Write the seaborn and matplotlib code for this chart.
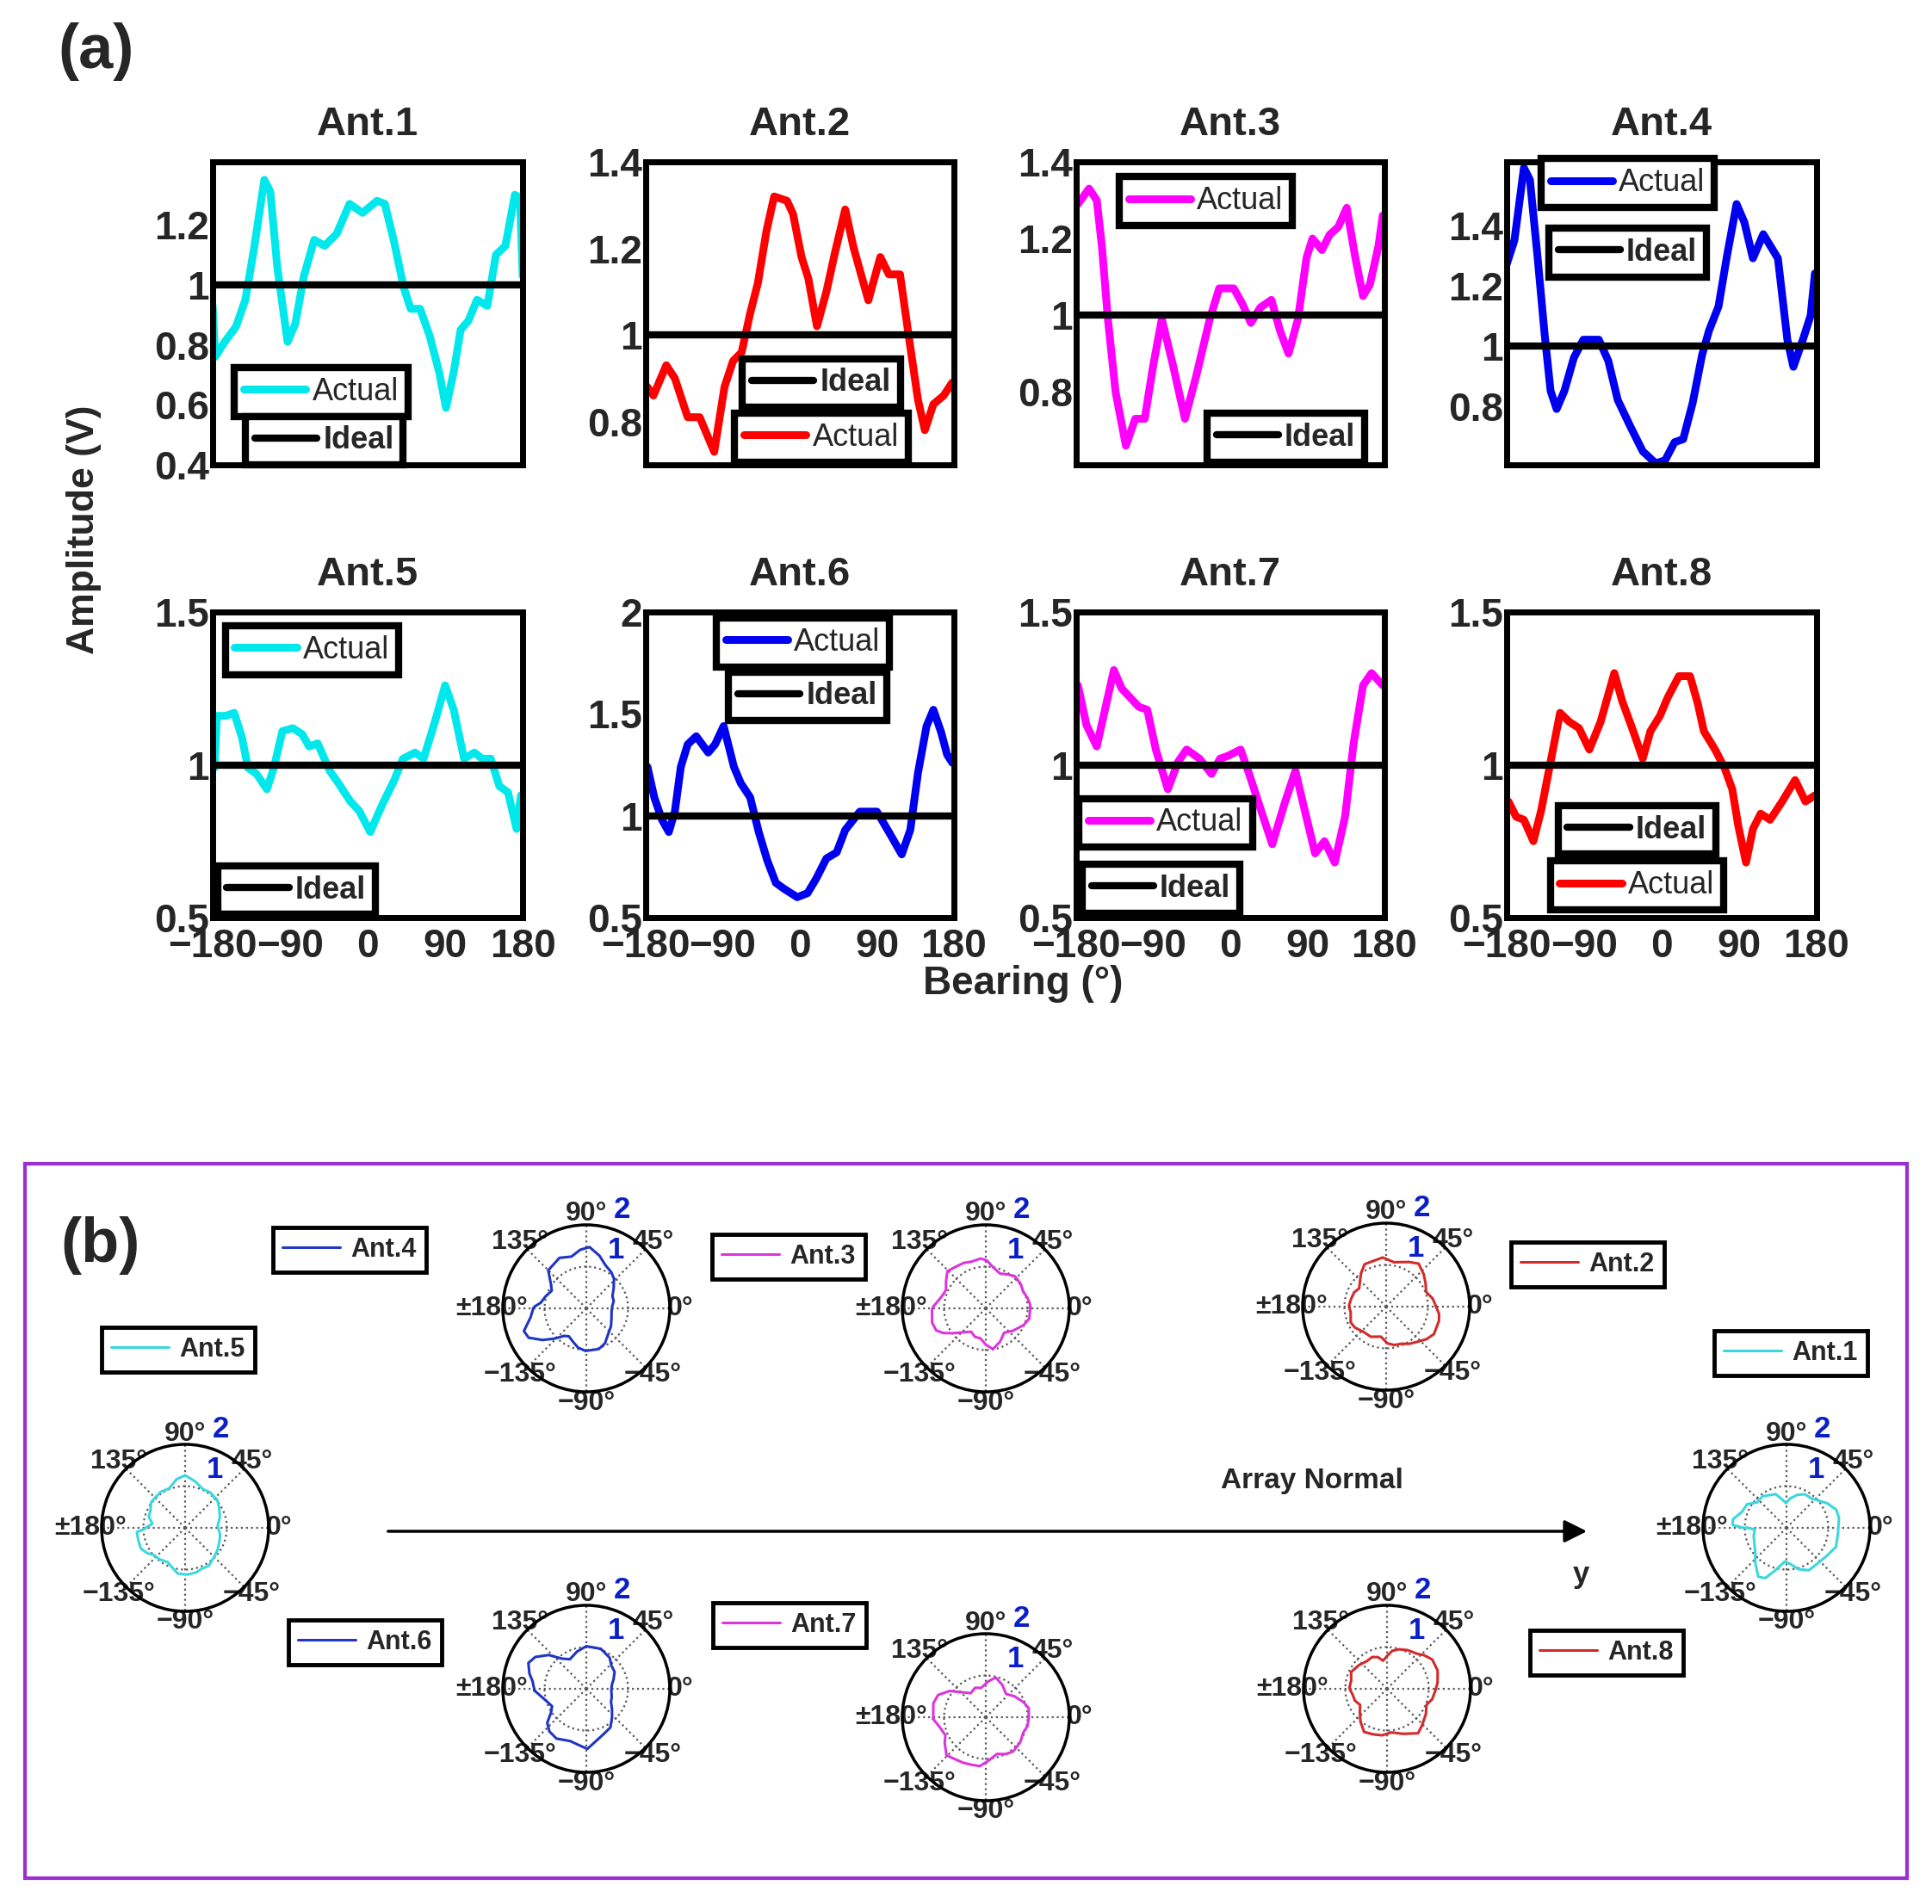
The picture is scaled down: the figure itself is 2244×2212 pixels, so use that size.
import numpy as np
import seaborn as sns
import matplotlib
matplotlib.use("Agg")
import matplotlib.pyplot as plt
from matplotlib.patches import Rectangle, FancyArrowPatch

# ==================================
# DATA
# ==================================

ant1_deg = [-180, -177, -166, -153, -142, -132, -120, -113, -105, -93, -84, -74, -62, -50, -36, -21, -6,
            11, 20, 31, 42, 50, 61, 72, 83, 91, 100, 108, 117, 127, 139, 149, 160, 171, 177, 180]
ant1_amp = [0.93, 0.76, 0.81, 0.86, 0.95, 1.12, 1.35, 1.31, 1.06, 0.81, 0.87, 1.03, 1.15, 1.13, 1.17, 1.27, 1.24,
            1.28, 1.27, 1.14, 0.99, 0.92, 0.92, 0.83, 0.71, 0.59, 0.71, 0.85, 0.88, 0.95, 0.93, 1.10, 1.13, 1.30, 1.29, 1.03]

ant2_deg = [-178, -171, -156, -146, -131, -117, -100, -88, -78, -68, -58, -49, -39, -30, -15, -8, 2,
            10, 20, 31, 41, 53, 63, 80, 94, 104, 117, 127, 138, 146, 156, 168, 178]
ant2_amp = [0.88, 0.86, 0.93, 0.90, 0.81, 0.81, 0.73, 0.88, 0.94, 0.96, 1.05, 1.12, 1.24, 1.32, 1.31, 1.28, 1.18,
            1.13, 1.02, 1.10, 1.19, 1.29, 1.20, 1.08, 1.18, 1.14, 1.14, 1.00, 0.85, 0.78, 0.84, 0.86, 0.89]

ant3_deg = [-178, -165, -156, -150, -143, -134, -122, -111, -100, -90, -80, -67, -53, -40, -24, -13, 4,
            14, 24, 35, 48, 58, 68, 79, 89, 96, 107, 116, 126, 136, 146, 155, 163, 173, 178]
ant3_amp = [1.29, 1.33, 1.30, 1.18, 0.99, 0.80, 0.66, 0.73, 0.73, 0.87, 0.99, 0.87, 0.73, 0.84, 0.99, 1.07, 1.07,
            1.03, 0.98, 1.02, 1.04, 0.96, 0.90, 0.99, 1.15, 1.20, 1.17, 1.21, 1.23, 1.28, 1.15, 1.05, 1.08, 1.18, 1.26]

ant4_deg = [-180, -171, -160, -153, -144, -136, -129, -122, -113, -102, -91, -73, -62, -51, -36, -22, -7,
            4, 15, 25, 36, 47, 55, 66, 76, 87, 96, 106, 118, 135, 146, 153, 164, 173, 178]
ant4_amp = [1.27, 1.35, 1.59, 1.55, 1.29, 1.04, 0.85, 0.79, 0.85, 0.96, 1.02, 1.02, 0.95, 0.82, 0.73, 0.65, 0.61,
            0.62, 0.68, 0.69, 0.81, 0.97, 1.05, 1.13, 1.30, 1.47, 1.41, 1.29, 1.37, 1.29, 1.02, 0.93, 1.02, 1.10, 1.24]

ant5_deg = [-178, -175, -165, -155, -146, -139, -129, -117, -109, -99, -87, -76, -68, -58, -44, -34, -20,
            -10, 3, 17, 31, 41, 55, 65, 78, 90, 100, 112, 124, 133, 143, 153, 163, 173, 178]
ant5_amp = [0.99, 1.16, 1.16, 1.17, 1.09, 0.99, 0.97, 0.92, 0.99, 1.11, 1.12, 1.10, 1.06, 1.07, 0.98, 0.94, 0.88,
            0.85, 0.78, 0.87, 0.95, 1.02, 1.04, 1.02, 1.14, 1.26, 1.18, 1.02, 1.04, 1.02, 1.02, 0.93, 0.91, 0.79, 0.90]

ant6_deg = [-178, -170, -161, -153, -146, -139, -131, -121, -107, -99, -89, -77, -69, -58, -48, -38, -28,
            -18, -3, 9, 19, 31, 43, 53, 70, 90, 104, 119, 129, 138, 148, 156, 165, 172, 178]
ant6_amp = [1.24, 1.09, 0.98, 0.92, 1.02, 1.24, 1.35, 1.39, 1.31, 1.35, 1.44, 1.24, 1.16, 1.09, 0.92, 0.78, 0.67,
            0.64, 0.60, 0.62, 0.69, 0.79, 0.82, 0.93, 1.02, 1.02, 0.92, 0.81, 0.93, 1.21, 1.44, 1.52, 1.41, 1.30, 1.26]

ant7_deg = [-178, -168, -156, -148, -136, -127, -117, -107, -97, -87, -73, -61, -51, -36, -22, -12,
            -2, 12, 22, 36, 49, 63, 76, 87, 99, 110, 122, 134, 144, 155, 165, 178]
ant7_amp = [1.26, 1.13, 1.06, 1.16, 1.31, 1.25, 1.22, 1.19, 1.18, 1.05, 0.92, 1.01, 1.05, 1.02, 0.97, 1.02,
            1.03, 1.05, 0.97, 0.85, 0.74, 0.87, 0.98, 0.85, 0.71, 0.75, 0.68, 0.83, 1.07, 1.26, 1.30, 1.26]

ant8_deg = [-178, -169, -160, -149, -140, -129, -118, -107, -96, -84, -71, -55, -46, -33, -22, -13, -2,
            7, 20, 33, 42, 49, 62, 73, 82, 89, 98, 106, 115, 126, 140, 155, 167, 178]
ant8_amp = [0.88, 0.83, 0.82, 0.75, 0.85, 1.01, 1.17, 1.14, 1.12, 1.05, 1.14, 1.30, 1.21, 1.11, 1.02, 1.11, 1.16,
            1.22, 1.29, 1.29, 1.20, 1.11, 1.05, 0.99, 0.92, 0.80, 0.68, 0.79, 0.84, 0.82, 0.88, 0.95, 0.88, 0.90]

ideal_amp = 1.0

ant_names = ["Ant.1", "Ant.2", "Ant.3", "Ant.4", "Ant.5", "Ant.6", "Ant.7", "Ant.8"]
line_colors = ["#00e8ec", "#ff0000", "#ff00ff", "#0000f0", "#00e8ec", "#0000f0", "#ff00ff", "#ff0000"]
polar_colors = ["#3ad8de", "#d42a2a", "#dd35dd", "#1f35c4", "#3ad8de", "#1f35c4", "#dd35dd", "#d42a2a"]

x_ticks = [-180, -90, 0, 90, 180]
x_ticklabels = ["\u2212180", "\u221290", "0", "90", "180"]
y_ticks = [[0.4, 0.6, 0.8, 1, 1.2], [0.8, 1, 1.2, 1.4], [0.8, 1, 1.2, 1.4], [0.8, 1, 1.2, 1.4],
           [0.5, 1, 1.5], [0.5, 1, 1.5, 2], [0.5, 1, 1.5], [0.5, 1, 1.5]]
y_limits = [(0.4, 1.41), (0.7, 1.4), (0.61, 1.4), (0.605, 1.61),
            (0.5, 1.5), (0.5, 2.0), (0.5, 1.5), (0.5, 1.5)]

theta_ticks = [0, 45, 90, 135, 180, 225, 270, 315]
theta_labels = ["0\u00b0", "45\u00b0", "90\u00b0", "135\u00b0", "\u00b1180\u00b0",
                "\u2212135\u00b0", "\u221290\u00b0", "\u221245\u00b0"]

degs = [ant1_deg, ant2_deg, ant3_deg, ant4_deg, ant5_deg, ant6_deg, ant7_deg, ant8_deg]
amps = [ant1_amp, ant2_amp, ant3_amp, ant4_amp, ant5_amp, ant6_amp, ant7_amp, ant8_amp]

# ==================================
# LAYOUT (pixel boxes of the 2244x2212 picture)
# ==================================

W, H = 2244, 2212

def fbox(x0, y0, x1, y1):
    return [x0 / W, 1 - y1 / H, (x1 - x0) / W, (y1 - y0) / H]

col_x = [(247, 607), (750, 1108), (1250, 1608), (1750, 2110)]
row_y = [(188, 540), (711, 1066)]

# legend centres in axes fraction: (actual, ideal)
legend_pos = [((0.35, 0.24), (0.36, 0.08)), ((0.57, 0.09), (0.57, 0.27)),
              ((0.42, 0.87), (0.68, 0.09)), ((0.39, 0.93), (0.39, 0.70)),
              ((0.32, 0.875), (0.27, 0.09)), ((0.51, 0.90), (0.525, 0.724)),
              ((0.29, 0.31), (0.275, 0.094)), ((0.42, 0.105), (0.42, 0.287))]

polar_centres = [(2075, 1775), (1610, 1518), (1145, 1520), (681, 1520),
                 (215, 1775), (681, 1962), (1145, 1995), (1611, 1962)]
polar_legends = [(2080, 1572), (1844, 1469), (916, 1460), (406, 1452),
                 (207, 1568), (424, 1908), (917, 1888), (1866, 1920)]
R_PX = 97

# ==================================
# STYLE
# ==================================

sns.set_theme(style="white")
plt.rcParams["font.family"] = ["Liberation Sans", "DejaVu Sans"]
plt.rcParams["axes.unicode_minus"] = True

fig = plt.figure(figsize=(W / 100, H / 100), dpi=100)

# ==================================
# (a) LINE PLOTS
# ==================================

for i in range(8):
    r, c = divmod(i, 4)
    x0, x1 = col_x[c]
    y0, y1 = row_y[r]
    ax = fig.add_axes(fbox(x0, y0, x1, y1))

    sns.lineplot(x=degs[i], y=amps[i], ax=ax, color=line_colors[i], linewidth=6.5,
                 estimator=None, sort=False, legend=False)
    act_line = ax.lines[-1]
    act_line.set_solid_joinstyle("round")
    ideal_line = ax.axhline(ideal_amp, color="black", linewidth=6)

    ax.set_xlim(-180, 180)
    ax.set_ylim(*y_limits[i])
    ax.set_yticks(y_ticks[i])
    ax.set_yticklabels(["%g" % v for v in y_ticks[i]], fontsize=33, fontweight="bold")
    ax.set_xticks(x_ticks)
    if r == 1:
        ax.set_xticklabels(x_ticklabels, fontsize=33, fontweight="bold")
    else:
        ax.set_xticklabels([])
    ax.tick_params(length=0)
    ax.tick_params(axis="y", pad=3)
    ax.tick_params(axis="x", pad=9)
    ax.set_xlabel("")
    ax.set_ylabel("")
    for s in ax.spines.values():
        s.set_linewidth(5)
        s.set_color("black")
    ax.set_title(ant_names[i], fontsize=34, fontweight="bold", pad=22)

    act_pos, ideal_pos = legend_pos[i]
    leg1 = ax.legend([act_line], ["Actual"], loc="center", bbox_to_anchor=act_pos,
                     prop={"size": 26}, frameon=True, fancybox=False, edgecolor="black",
                     framealpha=1, handlelength=2.0, handletextpad=0.2, borderpad=0.3,
                     borderaxespad=0)
    leg1.get_frame().set_linewidth(6)
    ax.add_artist(leg1)
    leg2 = ax.legend([ideal_line], ["Ideal"], loc="center", bbox_to_anchor=ideal_pos,
                     prop={"size": 26, "weight": "bold"}, frameon=True, fancybox=False,
                     edgecolor="black", framealpha=1, handlelength=2.0, handletextpad=0.2,
                     borderpad=0.3, borderaxespad=0)
    leg2.get_frame().set_linewidth(6)

fig.text(97 / W, 1 - 615 / H, "Amplitude (V)", rotation=90, ha="center", va="center",
         fontsize=32, fontweight="bold")
fig.text(1188 / W, 1 - 1143 / H, "Bearing (\u00b0)", ha="center", va="center",
         fontsize=33, fontweight="bold")
fig.text(112 / W, 1 - 60 / H, "(a)", ha="center", va="center", fontsize=52, fontweight="bold")

# ==================================
# (b) POLAR PATTERNS
# ==================================

fig.add_artist(Rectangle((29 / W, 1 - 2182 / H), (2215 - 29) / W, (2182 - 1352) / H,
                         transform=fig.transFigure, fill=False, edgecolor="#9b30d0", linewidth=3))
fig.text(117 / W, 1 - 1447 / H, "(b)", ha="center", va="center", fontsize=52, fontweight="bold")

for i in range(8):
    cx, cy = polar_centres[i]
    pax = fig.add_axes(fbox(cx - R_PX, cy - R_PX, cx + R_PX, cy + R_PX), projection="polar")
    theta = np.deg2rad(np.append(degs[i], degs[i][0] + 360))
    rad = np.append(amps[i], amps[i][0])
    sns.lineplot(x=theta, y=rad, ax=pax, color=polar_colors[i], linewidth=2.2,
                 estimator=None, sort=False, legend=False)
    pol_line = pax.lines[-1]
    pax.set_ylim(0, 2)
    pax.set_rgrids([1], labels=[""])
    pax.set_thetagrids(theta_ticks, labels=theta_labels, fontsize=23, fontweight="bold")
    pax.grid(True, linestyle=":", color="0.35", linewidth=1.6)
    pax.spines["polar"].set_linewidth(2.5)
    pax.spines["polar"].set_color("black")
    pax.tick_params(axis="x", pad=-4)
    pax.set_xlabel("")
    pax.set_ylabel("")
    pax.set_facecolor("none")
    pax.text(np.deg2rad(63), 1.57, "1", color="#0b1fc8", fontsize=25, fontweight="bold",
             ha="center", va="center")
    pax.text(np.deg2rad(70), 2.52, "2", color="#0b1fc8", fontsize=25, fontweight="bold",
             ha="center", va="center", clip_on=False)

    lx, ly = polar_legends[i]
    pl = pax.legend([pol_line], [ant_names[i]], loc="center", bbox_to_anchor=(lx / W, 1 - ly / H),
                    bbox_transform=fig.transFigure, prop={"size": 22, "weight": "bold"},
                    frameon=True, fancybox=False, edgecolor="black", framealpha=1,
                    handlelength=2.2, handletextpad=0.4, borderpad=0.35)
    pl.get_frame().set_linewidth(3.5)

fig.add_artist(FancyArrowPatch((448 / W, 1 - 1779 / H), (1846 / W, 1 - 1779 / H),
                               transform=fig.transFigure, arrowstyle="-|>", mutation_scale=40,
                               linewidth=2.5, color="black"))
fig.text(1524 / W, 1 - 1720 / H, "Array Normal", ha="center", va="center",
         fontsize=24, fontweight="bold")
fig.text(1836 / W, 1 - 1829 / H, "y", ha="center", va="center", fontsize=25, fontweight="bold")

fig.savefig("out.png", dpi=100)
